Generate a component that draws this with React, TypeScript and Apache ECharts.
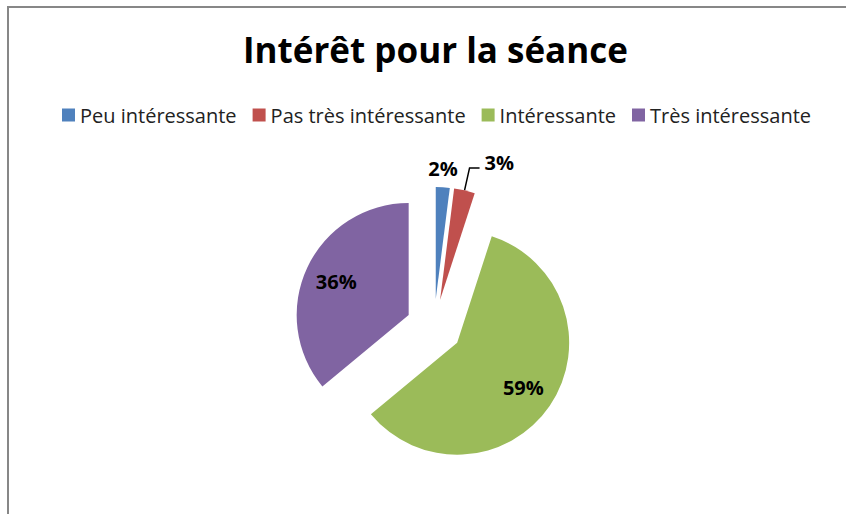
import React, { useEffect, useRef } from "react";
import * as echarts from "echarts";

const titleText = "Intérêt pour la séance";
const categories = ["Peu intéressante", "Pas très intéressante", "Intéressante", "Très intéressante"];
const values = [2, 3, 59, 36];
const palette = ["#4F81BD", "#C0504D", "#9BBB59", "#8064A2"];
const insideLabelIdx = [2, 3];

const FONT = "'Open Sans', 'Noto Sans', sans-serif";

export default function App() {
  const ref = useRef<HTMLDivElement>(null);
  useEffect(() => {
    if (!ref.current) return;
    const chart = echarts.init(ref.current, undefined, { renderer: "svg" });
    const mainData = categories.map((name, i) => ({
      name,
      value: values[i],
      selected: true,
      itemStyle: { color: palette[i] },
      label: { show: !insideLabelIdx.includes(i) },
      labelLine: i === 1 ? { show: true, length: 23, length2: 10 } : { show: false, length: 19, length2: 0 },
    }));
    const overlayData = categories.map((name, i) => ({
      name,
      value: values[i],
      selected: true,
      label: { show: insideLabelIdx.includes(i) },
    }));
    chart.setOption({
      animation: false,
      backgroundColor: "#ffffff",
      color: palette,
      title: {
        text: titleText,
        left: 238,
        top: 27,
        padding: 5,
        textStyle: { fontFamily: FONT, fontWeight: "bold", fontSize: 35, color: "#000" },
      },
      legend: {
        data: categories,
        left: 57,
        top: 100,
        padding: 5,
        itemWidth: 13,
        itemHeight: 13,
        itemGap: 16,
        icon: "rect",
        selectedMode: false,
        textStyle: { fontFamily: FONT, fontSize: 20, color: "#222" },
      },
      graphic: [
        { type: "line", shape: { x1: 7, y1: 7, x2: 846, y2: 7 }, style: { stroke: "#878787", lineWidth: 2 } },
        { type: "line", shape: { x1: 8, y1: 7, x2: 8, y2: 514 }, style: { stroke: "#878787", lineWidth: 2 } },
      ],
      series: [
        {
          type: "pie",
          center: [434, 327],
          radius: [0, 112],
          startAngle: 90,
          clockwise: true,
          selectedMode: "multiple",
          selectedOffset: 28,
          avoidLabelOverlap: false,
          emphasis: { disabled: true },
          percentPrecision: 0,
          label: {
            position: "outside",
            formatter: "{d}%",
            fontFamily: FONT,
            fontWeight: "bold",
            fontSize: 20,
            color: "#000",
          },
          labelLine: { lineStyle: { color: "#000", width: 1.5 } },
          labelLayout: (p: any) =>
            p.dataIndex === 0 ? { align: "center", dx: -6 } : p.dataIndex === 1 ? { dy: -5 } : {},
          data: mainData,
        },
        {
          type: "pie",
          center: [434, 327],
          radius: [42, 112],
          startAngle: 90,
          clockwise: true,
          selectedMode: "multiple",
          selectedOffset: 28,
          silent: true,
          emphasis: { disabled: true },
          percentPrecision: 0,
          itemStyle: { color: "rgba(0,0,0,0)" },
          label: {
            position: "inside",
            formatter: "{d}%",
            fontFamily: FONT,
            fontWeight: "bold",
            fontSize: 20,
            color: "#000",
          },
          labelLine: { show: false },
          data: overlayData,
        },
      ],
    });
    return () => chart.dispose();
  }, []);
  return (
    <div
      ref={ref}
      style={{ position: "absolute", left: 0, top: 0, width: 846, height: 514, background: "#fff" }}
    />
  );
}
